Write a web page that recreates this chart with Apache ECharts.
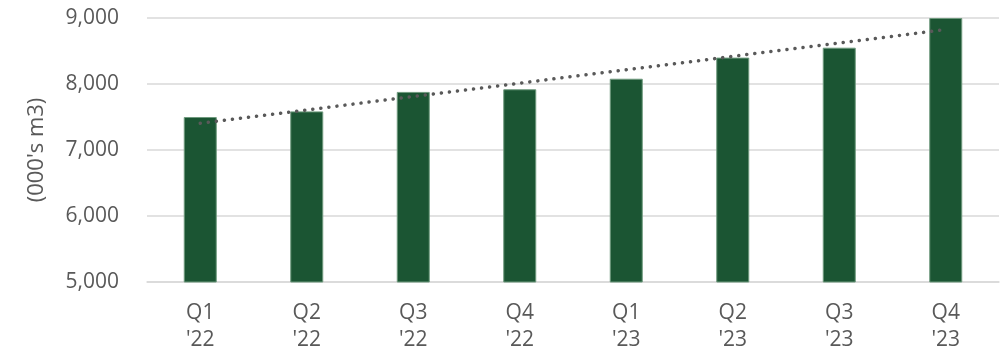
<!DOCTYPE html>
<html>
<head>
<meta charset="utf-8">
<script src="https://cdn.jsdelivr.net/npm/echarts@6/dist/echarts.min.js"></script>
<style>
  html, body { margin: 0; padding: 0; background: #ffffff; }
  #chart { width: 1005px; height: 354px; }
</style>
</head>
<body>
<div id="chart"></div>
<script>
// Quarterly volumes, thousands of cubic metres
const quarters = ["Q1\n'22", "Q2\n'22", "Q3\n'22", "Q4\n'22", "Q1\n'23", "Q2\n'23", "Q3\n'23", "Q4\n'23"];
const volumes = [7500, 7585, 7880, 7920, 8080, 8400, 8550, 9000];
const yTicks = [5000, 6000, 7000, 8000, 9000];

// Least-squares linear trend over the quarter index
function linearTrend(values) {
  const n = values.length;
  const mx = (n - 1) / 2;
  const my = values.reduce((a, b) => a + b, 0) / n;
  let num = 0, den = 0;
  values.forEach((v, i) => { num += (i - mx) * (v - my); den += (i - mx) * (i - mx); });
  const slope = num / den;
  const intercept = my - slope * mx;
  return values.map((_, i) => intercept + slope * i);
}
const trend = linearTrend(volumes);

const textColor = '#595959';
const fontFamily = '"Open Sans", "Noto Sans", sans-serif';

const chart = echarts.init(document.getElementById('chart'), null, { renderer: 'canvas' });
chart.setOption({
  animation: false,
  grid: { left: 147, right: 6, top: 18, bottom: 72, containLabel: false },
  xAxis: {
    type: 'category',
    data: quarters,
    axisLine: { show: true, lineStyle: { color: '#d9d9d9', width: 1.5 } },
    axisTick: { show: false },
    axisLabel: {
      color: textColor, fontFamily: fontFamily, fontSize: 21,
      lineHeight: 27, margin: 18, interval: 0
    }
  },
  yAxis: {
    type: 'value',
    min: yTicks[0],
    max: yTicks[yTicks.length - 1],
    interval: 1000,
    name: "(000's m3)",
    nameLocation: 'middle',
    nameGap: 99,
    nameTextStyle: { color: textColor, fontFamily: fontFamily, fontSize: 22 },
    axisLine: { show: false },
    axisTick: { show: false },
    splitLine: { lineStyle: { color: '#d9d9d9', width: 1.5 } },
    axisLabel: {
      color: textColor, fontFamily: fontFamily, fontSize: 21, margin: 28,
      formatter: v => v.toLocaleString('en-US')
    }
  },
  series: [
    {
      type: 'bar',
      data: volumes,
      barWidth: 33,
      itemStyle: { color: '#1b5533', borderColor: '#6f9a7e', borderWidth: 1 }
    },
    {
      type: 'line',
      data: trend,
      symbol: 'none',
      lineStyle: { color: '#595959', width: 3.5, type: [0.1, 8], cap: 'round' },
      z: 3
    }
  ]
});
</script>
</body>
</html>
